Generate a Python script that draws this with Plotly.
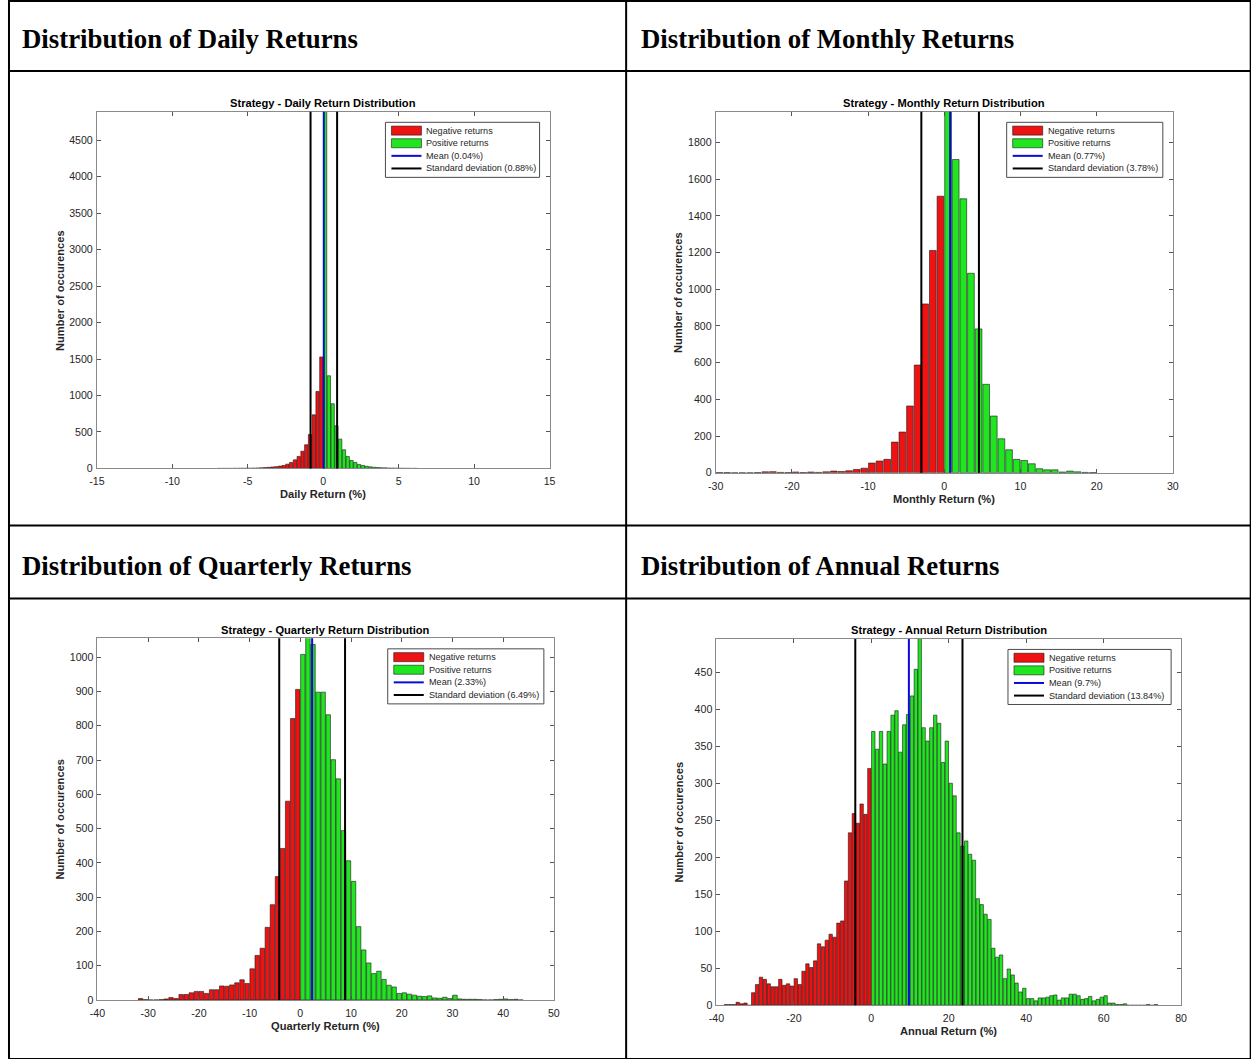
import plotly.graph_objects as go

# ---------------------------------------------------------------------------
# Histogram counts (bins listed left to right)
# ---------------------------------------------------------------------------
DAILY_BIN = 0.25
DAILY_NEG = [1, 1, 1, 1, 2, 2, 3, 3, 4, 5, 7, 9, 12, 15, 20, 25, 32, 41, 59, 82,
             118, 165, 237, 325, 465, 735, 1055, 1528]
DAILY_POS = [5100, 1270, 887, 585, 402, 256, 165, 110, 82, 55, 41, 30, 22, 17, 13,
             10, 8, 6, 5, 4, 3, 2, 2, 1, 1]
DAILY_MEAN, DAILY_STD = 0.04, 0.88

MONTHLY_BIN = 1.0
MONTHLY_NEG = [1, 1, 0, 0, 0, 1, 5, 6, 2, 1, 4, 1, 4, 2, 5, 9, 7, 11, 18, 25,
               53, 64, 73, 167, 222, 364, 587, 920, 1211, 1507]
MONTHLY_POS = [2050, 1707, 1493, 1087, 784, 482, 309, 185, 125, 73, 67, 49, 22,
               16, 16, 4, 9, 5, 2, 1]
MONTHLY_MEAN, MONTHLY_STD = 0.77, 3.78

QUARTERLY_BIN = 1.0
QUARTERLY_NEG = [4, 1, 0, 0, 1, 3, 7, 4, 16, 16, 21, 25, 25, 19, 30, 30, 41, 40,
                 44, 50, 59, 48, 91, 130, 151, 212, 278, 360, 442, 580, 821, 906]
QUARTERLY_POS = [1008, 1090, 1037, 898, 898, 832, 701, 645, 494, 406, 346, 214,
                 146, 108, 77, 84, 60, 43, 38, 19, 21, 17, 14, 11, 10, 12, 6, 5,
                 8, 4, 14, 3, 2, 2, 2, 1, 0, 0, 1, 2, 3, 1, 2, 0]
QUARTERLY_MEAN, QUARTERLY_STD = 2.33, 6.49

ANNUAL_BIN = 1.0
ANNUAL_NEG = [1, 1, 1, 4, 2, 3, 0, 17, 28, 38, 35, 29, 25, 25, 35, 27, 29, 26,
              36, 28, 46, 56, 51, 60, 83, 79, 88, 96, 92, 111, 114, 168, 233,
              259, 246, 272, 258, 320]
ANNUAL_POS = [370, 346, 370, 326, 370, 392, 398, 342, 379, 393, 418, 454, 510,
              375, 357, 375, 392, 381, 328, 357, 300, 283, 233, 215, 222, 204,
              196, 144, 136, 123, 116, 77, 65, 68, 36, 49, 41, 30, 18, 23, 9, 9,
              6, 10, 10, 11, 13, 14, 7, 10, 10, 15, 15, 13, 8, 9, 12, 6, 8, 11,
              13, 3, 3, 1, 1, 2, 0, 0, 0, 0, 0, 1, 0, 1]
ANNUAL_MEAN, ANNUAL_STD = 9.7, 13.84

# Axis limits and ticks
DAILY_XRANGE, DAILY_YMAX = [-15, 15], 4888
MONTHLY_XRANGE, MONTHLY_YMAX = [-30, 30], 1967
QUARTERLY_XRANGE, QUARTERLY_YMAX = [-40, 50], 1055
ANNUAL_XRANGE, ANNUAL_YMAX = [-40, 80], 495

DAILY_XTICKS = [-15, -10, -5, 0, 5, 10, 15]
DAILY_YTICKS = [0, 500, 1000, 1500, 2000, 2500, 3000, 3500, 4000, 4500]
MONTHLY_XTICKS = [-30, -20, -10, 0, 10, 20, 30]
MONTHLY_YTICKS = [0, 200, 400, 600, 800, 1000, 1200, 1400, 1600, 1800]
QUARTERLY_XTICKS = [-40, -30, -20, -10, 0, 10, 20, 30, 40, 50]
QUARTERLY_YTICKS = [0, 100, 200, 300, 400, 500, 600, 700, 800, 900, 1000]
ANNUAL_XTICKS = [-40, -20, 0, 20, 40, 60, 80]
ANNUAL_YTICKS = [0, 50, 100, 150, 200, 250, 300, 350, 400, 450]

HEADERS = ["Distribution of Daily Returns", "Distribution of Monthly Returns",
           "Distribution of Quarterly Returns", "Distribution of Annual Returns"]
PERIODS = ["Daily", "Monthly", "Quarterly", "Annual"]

# ---------------------------------------------------------------------------
# Styling / page geometry
# ---------------------------------------------------------------------------
FIG_W, FIG_H = 1258, 1066      # figure size
SX, SY = 0.988, 0.9934         # page-to-figure scale
OFF_X = 8                      # left page inset of the figure
FS = 1 / SX                    # font compensation
RED = "#ef1212"
GREEN = "#1fe61f"
BLUE = "#0a0ad8"
EDGE = "#1a1a1a"
TXT = "#262626"
SANS = "Liberation Sans, Arial, sans-serif"
SERIF = "Liberation Serif, Times New Roman, serif"

# axes boxes in page pixels: left, top, right, bottom
BOXES = [(96.7, 111.7, 549, 468), (715, 111.7, 1171.7, 472.3),
         (97.3, 637.7, 553.3, 999), (715.7, 638.3, 1180, 1004.3)]
LEGEND_W = [154, 156, 156, 163]
HEADER_POS = [(20, 39), (638, 39), (20, 565), (638, 565)]


def fx(x):
    return (x / SX - OFF_X) / FIG_W


def fy(y):
    return 1 - (y / SY) / FIG_H


panels = [
    (DAILY_BIN, DAILY_NEG, DAILY_POS, DAILY_MEAN, DAILY_STD, DAILY_XRANGE, DAILY_YMAX, DAILY_XTICKS, DAILY_YTICKS),
    (MONTHLY_BIN, MONTHLY_NEG, MONTHLY_POS, MONTHLY_MEAN, MONTHLY_STD, MONTHLY_XRANGE, MONTHLY_YMAX, MONTHLY_XTICKS, MONTHLY_YTICKS),
    (QUARTERLY_BIN, QUARTERLY_NEG, QUARTERLY_POS, QUARTERLY_MEAN, QUARTERLY_STD, QUARTERLY_XRANGE, QUARTERLY_YMAX, QUARTERLY_XTICKS, QUARTERLY_YTICKS),
    (ANNUAL_BIN, ANNUAL_NEG, ANNUAL_POS, ANNUAL_MEAN, ANNUAL_STD, ANNUAL_XRANGE, ANNUAL_YMAX, ANNUAL_XTICKS, ANNUAL_YTICKS),
]

fig = go.Figure()
shapes = []
annotations = []
layout_axes = {}

for i, (bw, neg, pos, mean, std, xr, ymax, xt, yt) in enumerate(panels):
    n = i + 1
    xa = "x" if n == 1 else f"x{n}"
    ya = "y" if n == 1 else f"y{n}"
    L, T, R, B = BOXES[i]

    neg_x = [(-len(neg) + k + 0.5) * bw for k in range(len(neg))]
    pos_x = [(k + 0.5) * bw for k in range(len(pos))]

    for xs, ys, col in ((neg_x, neg, RED), (pos_x, pos, GREEN)):
        fig.add_trace(go.Bar(
            x=xs, y=ys, width=bw * 0.88, xaxis=xa, yaxis=ya, showlegend=False,
            marker=dict(color=col, line=dict(color=EDGE, width=0.6)),
            hoverinfo="x+y"))

    axis_common = dict(showgrid=False, zeroline=False, showline=True, mirror="ticks",
                       linecolor="#8a8a8a", linewidth=1, ticks="inside", ticklen=4,
                       tickcolor="#555555",
                       tickfont=dict(family=SANS, size=10.5 * FS, color=TXT))
    layout_axes["xaxis" if n == 1 else f"xaxis{n}"] = dict(
        axis_common, domain=[fx(L), fx(R)], range=xr, anchor=ya,
        tickvals=xt, ticktext=[str(v) for v in xt], ticklabelstandoff=3)
    layout_axes["yaxis" if n == 1 else f"yaxis{n}"] = dict(
        axis_common, domain=[fy(B), fy(T)], range=[0, ymax], anchor=xa,
        tickvals=yt, ticktext=[str(v) for v in yt], ticklabelstandoff=1)

    # standard deviation band edges and mean
    for xv in (mean - std, mean + std):
        shapes.append(dict(type="line", xref=xa, yref=f"{ya} domain", x0=xv, x1=xv,
                           y0=0, y1=1, line=dict(color="black", width=2)))
    shapes.append(dict(type="line", xref=xa, yref=f"{ya} domain", x0=mean, x1=mean,
                       y0=0, y1=1, line=dict(color=BLUE, width=2)))

    # titles and axis labels
    period = PERIODS[i]
    annotations.append(dict(text=f"<b>Strategy - {period} Return Distribution</b>",
                            x=fx((L + R) / 2), y=fy(T - 8.5), xref="paper", yref="paper",
                            showarrow=False, xanchor="center", yanchor="middle",
                            font=dict(family=SANS, size=11 * FS, color="black")))
    annotations.append(dict(text=f"<b>{period} Return (%)</b>",
                            x=fx((L + R) / 2), y=fy(B + 26), xref="paper", yref="paper",
                            showarrow=False, xanchor="center", yanchor="middle",
                            font=dict(family=SANS, size=11 * FS, color=TXT)))
    annotations.append(dict(text="<b>Number of occurences</b>", textangle=-90,
                            x=fx(L - 37), y=fy((T + B) / 2), xref="paper", yref="paper",
                            showarrow=False, xanchor="center", yanchor="middle",
                            font=dict(family=SANS, size=11 * FS, color=TXT)))

    # legend box
    bx1 = R - 10
    bx0 = bx1 - LEGEND_W[i]
    by0 = T + 10.5
    by1 = by0 + 55
    shapes.append(dict(type="rect", xref="paper", yref="paper", x0=fx(bx0), x1=fx(bx1),
                       y0=fy(by1), y1=fy(by0), fillcolor="white",
                       line=dict(color="#4a4a4a", width=1), layer="above"))
    entries = [("patch", RED, "Negative returns"), ("patch", GREEN, "Positive returns"),
               ("line", BLUE, f"Mean ({mean:g}%)"),
               ("line", "black", f"Standard deviation ({std:g}%)")]
    for k, (kind, col, label) in enumerate(entries):
        cy = by0 + 8.3 + k * 12.6
        if kind == "patch":
            shapes.append(dict(type="rect", xref="paper", yref="paper",
                               x0=fx(bx0 + 6), x1=fx(bx0 + 36), y0=fy(cy + 4.5), y1=fy(cy - 4.5),
                               fillcolor=col, line=dict(color=EDGE, width=0.6), layer="above"))
        else:
            shapes.append(dict(type="line", xref="paper", yref="paper",
                               x0=fx(bx0 + 6), x1=fx(bx0 + 36), y0=fy(cy), y1=fy(cy),
                               line=dict(color=col, width=2), layer="above"))
        annotations.append(dict(text=label, x=fx(bx0 + 39), y=fy(cy), xref="paper", yref="paper",
                                showarrow=False, xanchor="left", yanchor="middle",
                                font=dict(family=SANS, size=9 * FS, color=TXT)))

# table headers
for (hx, hy), text in zip(HEADER_POS, HEADERS):
    annotations.append(dict(text=f"<b>{text}</b>", x=fx(hx), y=fy(hy), xref="paper", yref="paper",
                            showarrow=False, xanchor="left", yanchor="middle",
                            font=dict(family=SERIF, size=26.5 * FS, color="black")))

# table rules
rule = dict(color="black", width=2)
x_left = 1 / FIG_W                 # leftmost drawable column of the figure
x_right, y_top, y_bottom = fx(1249.5), fy(1), fy(1058)
shapes.append(dict(type="rect", xref="paper", yref="paper", x0=x_left, x1=x_right,
                   y0=y_bottom, y1=y_top, line=rule))
shapes.append(dict(type="line", xref="paper", yref="paper", x0=fx(625.5), x1=fx(625.5),
                   y0=y_bottom, y1=y_top, line=rule))
for yline in (71, 525, 598):
    shapes.append(dict(type="line", xref="paper", yref="paper", x0=x_left, x1=x_right,
                       y0=fy(yline), y1=fy(yline), line=rule))

fig.update_layout(
    width=FIG_W, height=FIG_H, autosize=False,
    margin=dict(l=0, r=0, t=0, b=0),
    paper_bgcolor="white", plot_bgcolor="white",
    barmode="overlay", showlegend=False,
    shapes=shapes, annotations=annotations,
    **layout_axes,
)

fig.write_html("out.html")
